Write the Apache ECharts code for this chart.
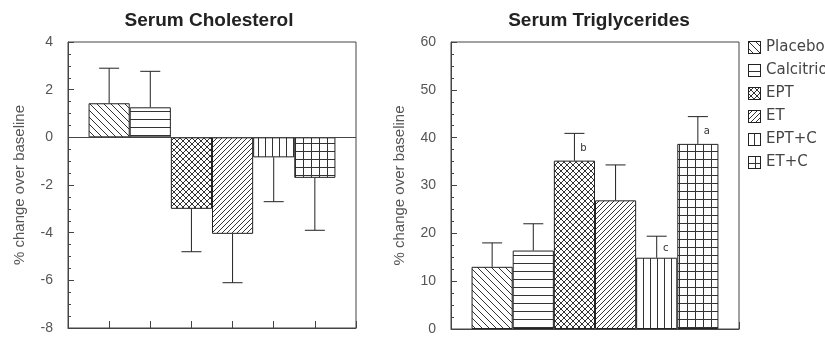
<!DOCTYPE html>
<html>
<head>
<meta charset="utf-8">
<script src="https://cdn.jsdelivr.net/npm/echarts@6/dist/echarts.min.js"></script>
<style>
  html, body { margin: 0; padding: 0; background: #fff; }
  #chart { width: 825px; height: 339px; }
</style>
</head>
<body>
<div id="chart"></div>
<script>
const groups = ['Placebo', 'Calcitriol', 'EPT', 'ET', 'EPT+C', 'ET+C'];
const cholMean = [1.43, 1.26, -3.0, -4.05, -0.84, -1.7];
const cholErr = [2.9, 2.77, -4.8, -6.1, -2.7, -3.9];
const trigMean = [13.0, 16.4, 35.2, 26.9, 14.9, 38.7];
const trigErr = [18.0, 22.0, 40.9, 34.3, 19.4, 44.4];
const trigNotes = ['', '', 'b', '', 'c', 'a'];
const patternKinds = ['back', 'horiz', 'diamond', 'fwd', 'vert', 'grid'];

const ink = '#333';

const makeTile = (kind) => {
  const sizes = { back: 7, horiz: 8, diamond: 6, fwd: 5, vert: 7, grid: 8 };
  const s = sizes[kind];
  const c = document.createElement('canvas');
  c.width = s;
  c.height = s;
  const ctx = c.getContext('2d');
  ctx.fillStyle = '#fff';
  ctx.fillRect(0, 0, s, s);
  ctx.strokeStyle = ink;
  ctx.lineWidth = 1;
  ctx.beginPath();
  if (kind === 'back' || kind === 'diamond') {
    for (const k of [-s, 0, s]) { ctx.moveTo(k, 0); ctx.lineTo(k + s, s); }
  }
  if (kind === 'fwd' || kind === 'diamond') {
    for (const k of [-s, 0, s]) { ctx.moveTo(k, s); ctx.lineTo(k + s, 0); }
  }
  if (kind === 'horiz' || kind === 'grid') {
    ctx.moveTo(0, s - 0.5); ctx.lineTo(s, s - 0.5);
  }
  if (kind === 'vert' || kind === 'grid') {
    ctx.moveTo(s - 0.5, 0); ctx.lineTo(s - 0.5, s);
  }
  ctx.stroke();
  return c;
};

const makeIcon = (kind) => {
  const c = document.createElement('canvas');
  c.width = 13;
  c.height = 13;
  const ctx = c.getContext('2d');
  ctx.fillStyle = ctx.createPattern(makeTile(kind), 'repeat');
  ctx.fillRect(0, 0, 13, 13);
  ctx.strokeStyle = '#222';
  ctx.lineWidth = 1;
  ctx.strokeRect(0.5, 0.5, 12, 12);
  return 'image://' + c.toDataURL();
};

const tiles = patternKinds.map(makeTile);
const barW = 288 / 7;

const barSeries = (grid, means) =>
  groups.map((name, i) => ({
    name,
    type: 'bar',
    xAxisIndex: grid,
    yAxisIndex: grid,
    barWidth: barW,
    barGap: '-100%',
    silent: true,
    itemStyle: {
      color: { image: tiles[i], repeat: 'repeat' },
      borderColor: '#222',
      borderWidth: 1,
    },
    data: [[i + 1, means[i]]],
  }));

const errorSeries = (grid, means, errs, notes) => ({
  type: 'custom',
  xAxisIndex: grid,
  yAxisIndex: grid,
  silent: true,
  z: 5,
  data: means.map((m, i) => [i + 1, m, errs[i]]),
  renderItem: (params, api) => {
    const x = api.value(0);
    const p0 = api.coord([x, api.value(1)]);
    const p1 = api.coord([x, api.value(2)]);
    const style = { stroke: '#222', lineWidth: 1 };
    const children = [
      { type: 'line', shape: { x1: p0[0], y1: p0[1], x2: p1[0], y2: p1[1] }, style },
      { type: 'line', shape: { x1: p1[0] - 10, y1: p1[1], x2: p1[0] + 10, y2: p1[1] }, style },
    ];
    const note = notes ? notes[params.dataIndex] : '';
    if (note) {
      const mid = api.coord([x, (api.value(1) + api.value(2)) / 2]);
      children.push({
        type: 'text',
        x: p0[0] + 9,
        y: mid[1] + 1,
        style: { text: note, fill: '#333', fontSize: 10, fontFamily: 'DejaVu Sans', align: 'center', verticalAlign: 'middle' },
      });
    }
    return { type: 'group', children };
  },
});

const xAxis = (grid) => ({
  type: 'value',
  gridIndex: grid,
  min: 0,
  max: 7,
  interval: 1,
  axisLine: { onZero: false, lineStyle: { color: '#444' } },
  axisTick: { inside: true, length: 7, lineStyle: { color: '#444' } },
  axisLabel: { show: false },
  splitLine: { show: false },
});

const yAxis = (grid, min, max, interval, nameGap) => ({
  type: 'value',
  gridIndex: grid,
  min,
  max,
  interval,
  name: '% change over baseline',
  nameLocation: 'middle',
  nameRotate: 90,
  nameGap,
  nameTextStyle: { color: '#555', fontSize: 15, fontFamily: 'Liberation Sans' },
  axisLine: { show: true, lineStyle: { color: '#444' } },
  axisTick: { inside: true, length: 6, lineStyle: { color: '#444' } },
  minorTick: { show: true, splitNumber: 4, length: 3, lineStyle: { color: '#444' } },
  axisLabel: { color: '#555', fontSize: 14, margin: 15, fontFamily: 'Liberation Sans' },
  splitLine: { show: false },
});

const series = [
  ...barSeries(0, cholMean),
  ...barSeries(1, trigMean),
  errorSeries(0, cholMean, cholErr, null),
  errorSeries(1, trigMean, trigErr, trigNotes),
];
series[0].markLine = {
  silent: true,
  symbol: 'none',
  label: { show: false },
  lineStyle: { color: '#444', width: 1, type: 'solid' },
  data: [{ yAxis: 0 }],
};

const chart = echarts.init(document.getElementById('chart'));
chart.setOption({
  animation: false,
  backgroundColor: '#fff',
  title: [
    { text: 'Serum Cholesterol', left: 204, top: 6, textAlign: 'center',
      textStyle: { fontSize: 19, fontWeight: 'bold', color: '#222', fontFamily: 'Liberation Sans' } },
    { text: 'Serum Triglycerides', left: 594, top: 6, textAlign: 'center',
      textStyle: { fontSize: 19, fontWeight: 'bold', color: '#222', fontFamily: 'Liberation Sans' } },
  ],
  legend: {
    orient: 'vertical',
    left: 748,
    top: 40,
    padding: 0,
    itemWidth: 13,
    itemHeight: 13,
    itemGap: 8,
    selectedMode: false,
    textStyle: { color: '#444', fontSize: 15, fontFamily: 'DejaVu Sans' },
    data: groups.map((name, i) => ({ name, icon: makeIcon(patternKinds[i]) })),
  },
  grid: [
    { left: 68, top: 42, width: 288, height: 286, show: true, borderColor: '#444', borderWidth: 1 },
    { left: 451, top: 42, width: 288, height: 287, show: true, borderColor: '#444', borderWidth: 1 },
  ],
  xAxis: [xAxis(0), xAxis(1)],
  yAxis: [yAxis(0, -8, 4, 2, 41), yAxis(1, 0, 60, 10, 44)],
  series,
});
</script>
</body>
</html>
